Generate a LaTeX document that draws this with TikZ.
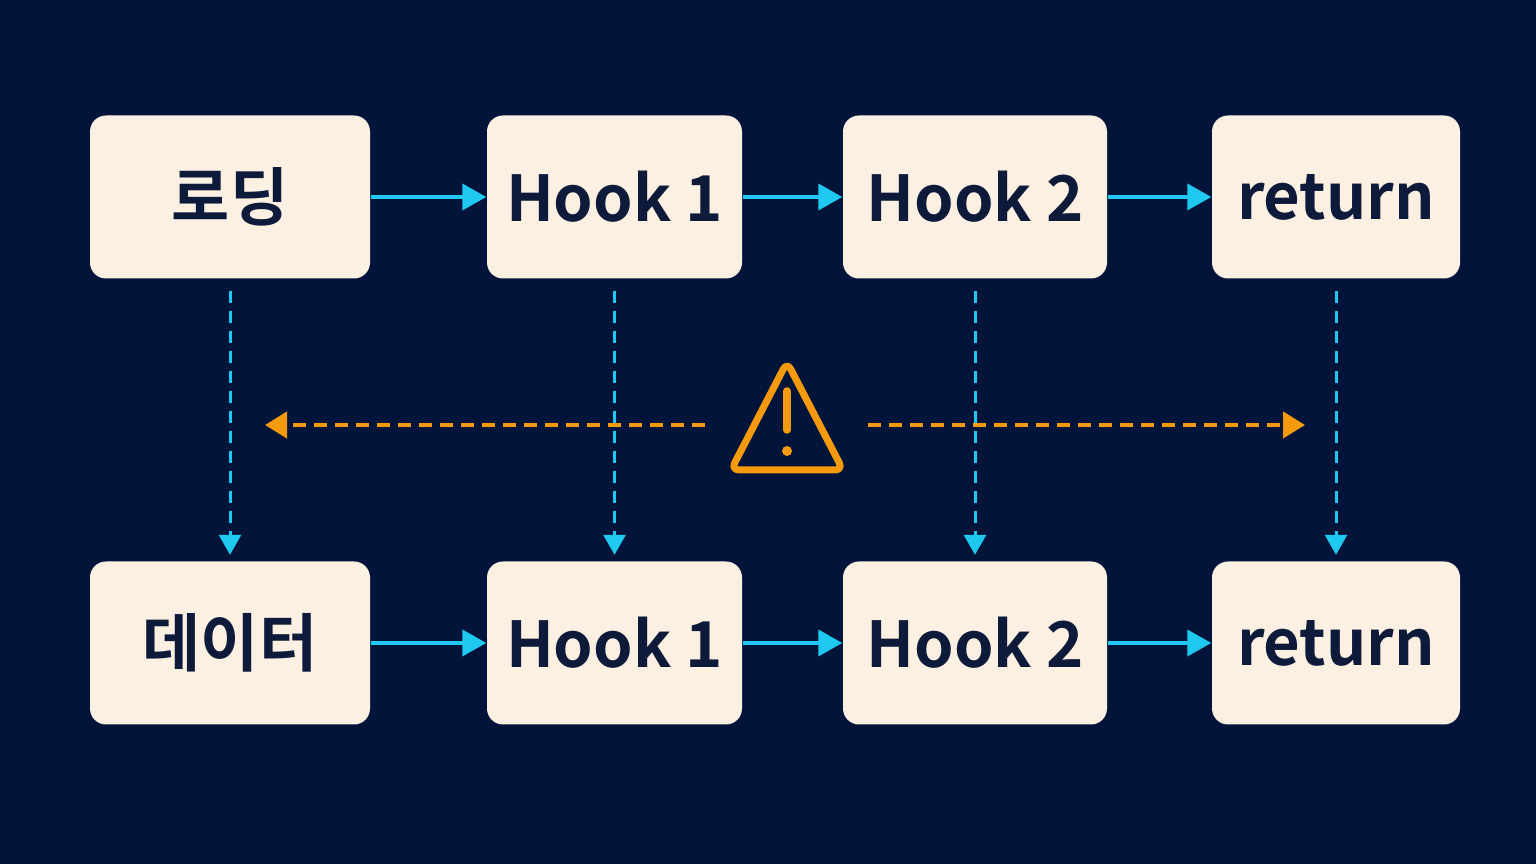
\documentclass[tikz,border=0pt]{standalone}
\usepackage{fontspec}
\setmainfont{Noto Sans CJK KR}[BoldFont={* Bold}]
\usetikzlibrary{arrows.meta,positioning}
\definecolor{bgnavy}{HTML}{02143A}
\definecolor{boxcream}{HTML}{FBF0E2}
\definecolor{inknavy}{HTML}{0D1A3A}
\definecolor{flowcyan}{HTML}{1FC8EE}
\definecolor{warnorange}{HTML}{F59A0C}
\tikzset{
  stage/.style={fill=boxcream, rounded corners=0.16cm, minimum height=1.63cm,
    text=inknavy, font=\fontsize{18}{20}\selectfont\bfseries, inner sep=0pt},
  flow/.style={flowcyan, line width=0.04cm, -{Triangle[length=0.24cm,width=0.26cm]}},
  drop/.style={flowcyan, line width=0.03cm, dash pattern=on 0.12cm off 0.08cm,
    -{Triangle[length=0.2cm,width=0.22cm]}, shorten <=0.12cm, shorten >=0.06cm},
  warn/.style={warnorange, line width=0.045cm, dash pattern=on 0.13cm off 0.08cm,
    -{Triangle[length=0.22cm,width=0.26cm]}}
}
\begin{document}
\begin{tikzpicture}
  \fill[bgnavy] (0,0) rectangle (15.36,8.64);
  \useasboundingbox (0,0) rectangle (15.36,8.64);

  % top row
  \node[stage, minimum width=2.80cm] (t1) at (2.30,6.67) {로딩};
  \node[stage, minimum width=2.55cm] (t2) at (6.145,6.67) {Hook 1};
  \node[stage, minimum width=2.64cm] (t3) at (9.75,6.67) {Hook 2};
  \node[stage, minimum width=2.48cm] (t4) at (13.36,6.67) {return};

  % bottom row
  \node[stage, minimum width=2.80cm] (b1) at (2.30,2.21) {데이터};
  \node[stage, minimum width=2.55cm] (b2) at (6.145,2.21) {Hook 1};
  \node[stage, minimum width=2.64cm] (b3) at (9.75,2.21) {Hook 2};
  \node[stage, minimum width=2.48cm] (b4) at (13.36,2.21) {return};

  \foreach \a/\b in {t1/t2,t2/t3,t3/t4,b1/b2,b2/b3,b3/b4}
    \draw[flow] (\a.east) -- (\b.west);
  \foreach \a/\b in {t1/b1,t2/b2,t3/b3,t4/b4}
    \draw[drop] (\a.south) -- (\b.north);

  % warning sign
  \coordinate (alert) at (7.87,4.30);
  \draw[warnorange, line width=0.07cm, line join=round, rounded corners=0.08cm]
    (7.87,5.02) -- (8.43,3.94) -- (7.31,3.94) -- cycle;
  \draw[warnorange, line width=0.075cm, line cap=round] (7.87,4.73) -- (7.87,4.34);
  \fill[warnorange] (7.87,4.13) circle (0.05cm);
  \coordinate (warnL) at (7.05,4.39);
  \coordinate (warnR) at (8.68,4.39);
  \coordinate (edgeL) at (2.65,4.39);
  \coordinate (edgeR) at (13.05,4.39);
  \draw[warn] (warnL) -- (edgeL);
  \draw[warn] (warnR) -- (edgeR);
\end{tikzpicture}
\end{document}
